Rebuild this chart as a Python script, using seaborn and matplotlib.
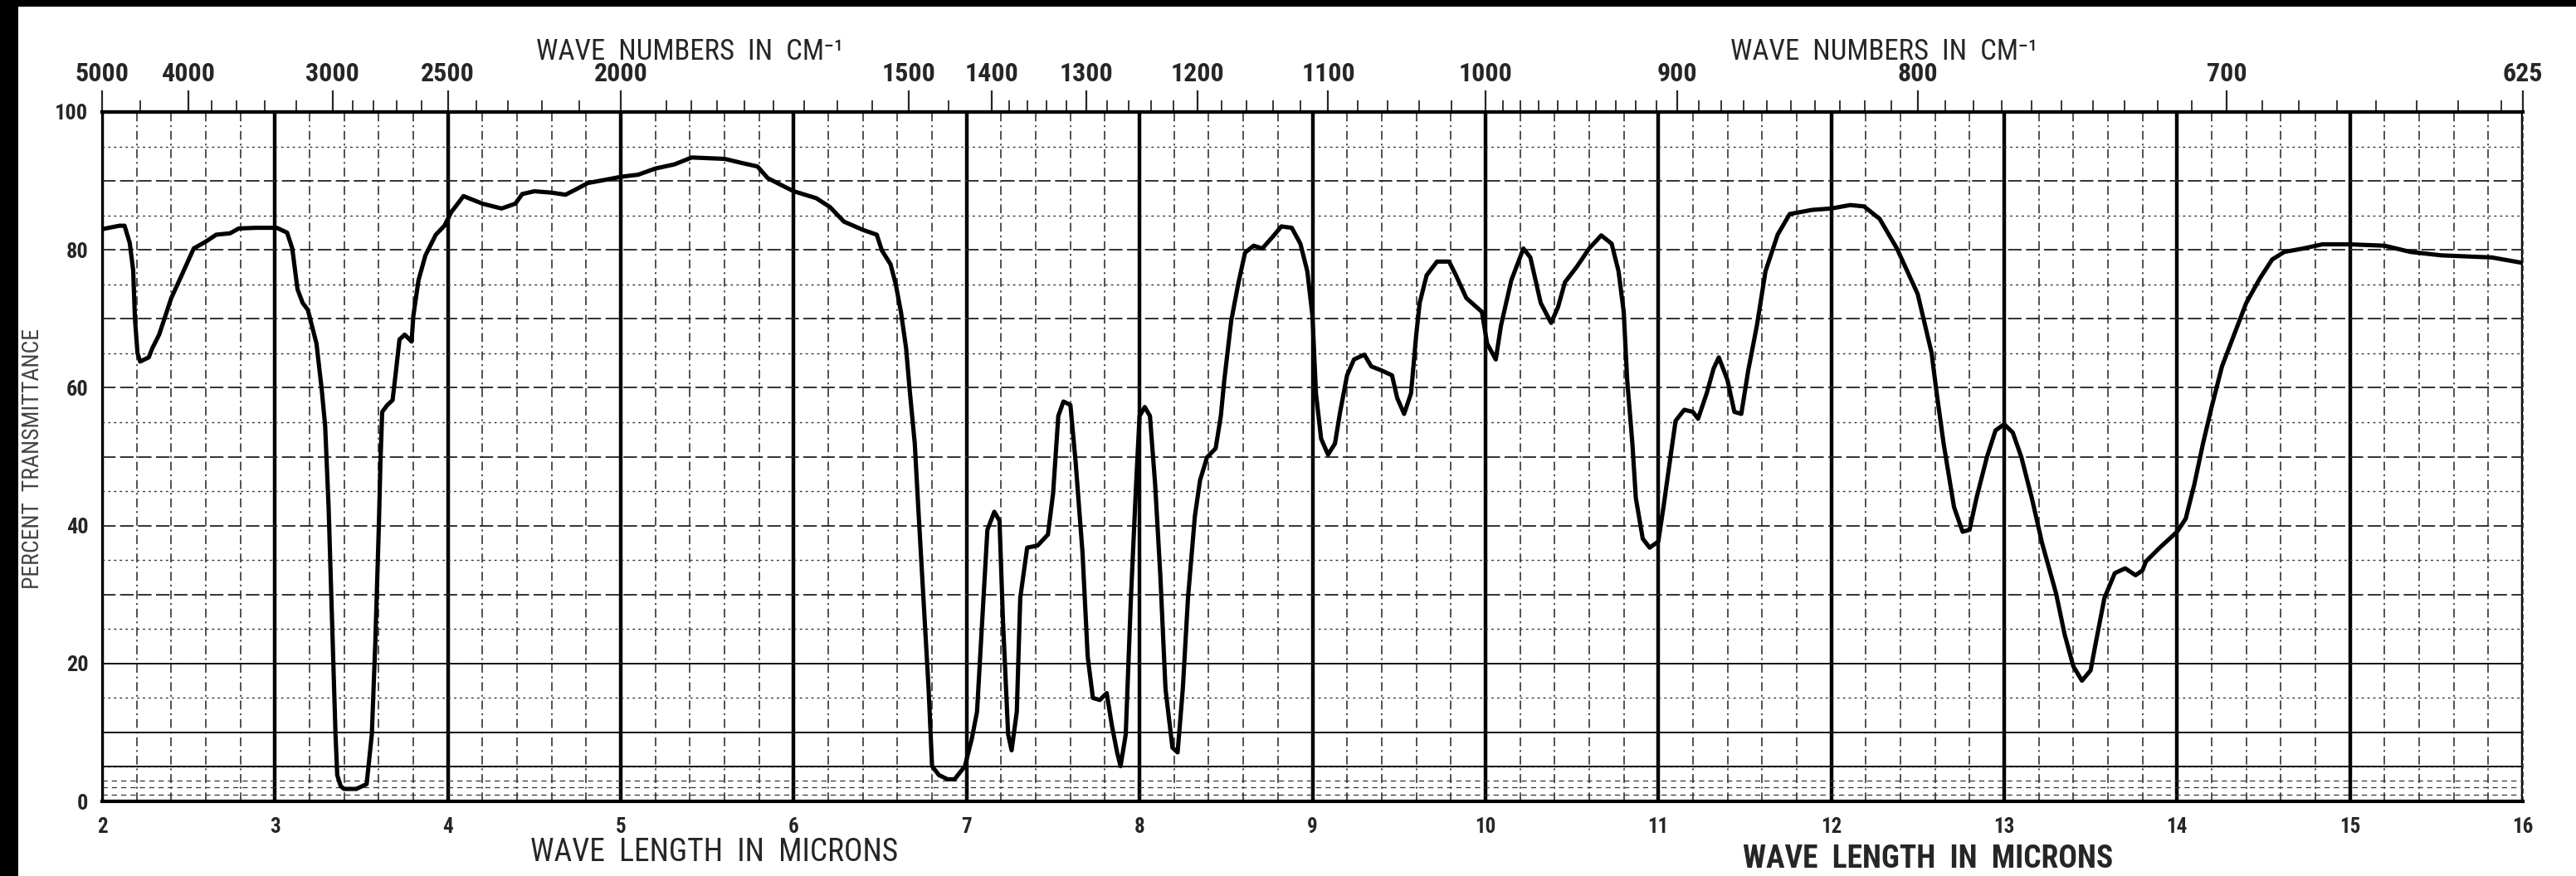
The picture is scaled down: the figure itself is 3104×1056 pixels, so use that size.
import numpy as np
import pandas as pd
import matplotlib
matplotlib.use("Agg")
import matplotlib.pyplot as plt
import seaborn as sns
from matplotlib import font_manager
from matplotlib.patches import Rectangle
from matplotlib.ticker import FixedLocator, MultipleLocator, FuncFormatter

# ---------------- data ----------------
wavelength_um = [
    2.00, 2.10, 2.13, 2.16, 2.18, 2.19, 2.205, 2.22, 2.27, 2.29, 2.33, 2.40, 2.46, 2.53,
    2.60, 2.66, 2.74, 2.79, 2.89, 3.01, 3.07, 3.10, 3.13, 3.16, 3.19, 3.24, 3.27, 3.29,
    3.31, 3.33, 3.35, 3.36, 3.38, 3.40, 3.47, 3.53, 3.56, 3.58, 3.60, 3.61, 3.62, 3.65,
    3.68, 3.70, 3.72, 3.75, 3.79, 3.80, 3.83, 3.87, 3.93, 3.98, 4.02, 4.06, 4.09, 4.20,
    4.31, 4.39, 4.43, 4.50, 4.60, 4.68, 4.75, 4.81, 4.94, 5.00, 5.10, 5.20, 5.31, 5.41,
    5.60, 5.70, 5.79, 5.85, 5.92, 6.00, 6.13, 6.21, 6.29, 6.40, 6.48, 6.51, 6.56, 6.59,
    6.62, 6.65, 6.67, 6.70, 6.72, 6.75, 6.78, 6.80, 6.84, 6.89, 6.93, 6.99, 7.03, 7.06,
    7.09, 7.12, 7.16, 7.19, 7.21, 7.24, 7.26, 7.29, 7.31, 7.35, 7.41, 7.47, 7.50, 7.53,
    7.56, 7.60, 7.63, 7.67, 7.70, 7.73, 7.77, 7.81, 7.84, 7.87, 7.89, 7.92, 7.95, 7.98,
    8.00, 8.03, 8.06, 8.09, 8.12, 8.15, 8.19, 8.22, 8.25, 8.28, 8.32, 8.35, 8.39, 8.44,
    8.47, 8.49, 8.53, 8.57, 8.61, 8.66, 8.71, 8.77, 8.82, 8.88, 8.93, 8.97, 9.00, 9.02,
    9.05, 9.09, 9.13, 9.16, 9.20, 9.24, 9.30, 9.34, 9.40, 9.46, 9.49, 9.53, 9.57, 9.60,
    9.62, 9.66, 9.72, 9.79, 9.83, 9.89, 9.98, 10.01, 10.06, 10.09, 10.15, 10.22, 10.26,
    10.32, 10.38, 10.42, 10.46, 10.53, 10.60, 10.67, 10.73, 10.77, 10.80, 10.82, 10.85,
    10.87, 10.91, 10.95, 11.00, 11.03, 11.07, 11.10, 11.15, 11.20, 11.23, 11.28, 11.32,
    11.35, 11.40, 11.44, 11.48, 11.52, 11.57, 11.62, 11.69, 11.76, 11.89, 12.00, 12.11,
    12.19, 12.28, 12.38, 12.50, 12.58, 12.61, 12.65, 12.71, 12.76, 12.80, 12.84, 12.90,
    12.95, 13.00, 13.05, 13.10, 13.16, 13.22, 13.30, 13.35, 13.40, 13.45, 13.50, 13.53,
    13.58, 13.64, 13.70, 13.76, 13.80, 13.82, 13.90, 14.00, 14.05, 14.10, 14.15, 14.20,
    14.26, 14.33, 14.40, 14.48, 14.55, 14.62, 14.73, 14.84, 15.00, 15.20, 15.35, 15.53,
    15.82, 16.00,
]
transmittance_pct = [
    83.0, 83.5, 83.5, 81.0, 77.0, 70.0, 65.0, 63.8, 64.4, 65.7, 67.7, 73.0, 76.3, 80.2,
    81.2, 82.2, 82.4, 83.1, 83.2, 83.2, 82.5, 80.2, 74.3, 72.3, 71.3, 66.4, 59.8, 54.5,
    42.7, 26.2, 9.7, 3.8, 2.2, 1.8, 1.8, 2.5, 9.7, 22.9, 39.4, 49.3, 56.5, 57.5,
    58.2, 62.5, 67.0, 67.7, 66.7, 70.4, 75.6, 79.2, 82.2, 83.5, 85.5, 86.8, 87.8, 86.7,
    86.0, 86.7, 88.1, 88.5, 88.3, 88.0, 88.9, 89.7, 90.3, 90.6, 90.9, 91.8, 92.4, 93.4,
    93.2, 92.6, 92.1, 90.4, 89.5, 88.5, 87.5, 86.2, 84.1, 82.9, 82.2, 79.9, 77.9, 75.0,
    71.0, 65.7, 59.8, 51.9, 42.7, 29.5, 16.3, 5.1, 3.8, 3.2, 3.2, 5.1, 9.1, 13.0,
    26.2, 39.4, 42.0, 40.7, 26.2, 9.7, 7.4, 13.0, 29.5, 36.8, 37.1, 38.7, 44.7, 55.9,
    58.0, 57.5, 49.3, 36.1, 21.0, 15.0, 14.7, 15.7, 11.0, 7.1, 5.1, 9.7, 29.5, 46.0,
    55.9, 57.2, 55.9, 46.0, 32.8, 16.3, 7.8, 7.1, 16.3, 29.5, 41.4, 46.6, 49.9, 51.2,
    55.9, 61.1, 69.7, 75.0, 79.6, 80.6, 80.2, 81.9, 83.4, 83.2, 80.9, 76.9, 70.4, 59.2,
    52.6, 50.3, 51.9, 56.5, 61.8, 64.1, 64.8, 63.1, 62.5, 61.8, 58.5, 56.2, 59.2, 67.7,
    72.3, 76.3, 78.3, 78.3, 76.3, 73.0, 71.0, 66.4, 64.1, 69.0, 75.6, 80.2, 78.9,
    72.3, 69.4, 71.7, 75.3, 77.6, 80.2, 82.1, 80.9, 76.9, 71.0, 61.1, 51.9,
    44.0, 38.1, 36.8, 37.7, 42.7, 49.9, 55.2, 56.8, 56.5, 55.5, 59.2, 62.8,
    64.4, 61.1, 56.5, 56.2, 62.5, 69.0, 76.9, 82.2, 85.2, 85.8, 86.0, 86.5,
    86.3, 84.5, 80.2, 73.6, 65.1, 59.2, 51.9, 42.7, 39.1, 39.4, 44.0, 49.9,
    53.8, 54.7, 53.5, 49.9, 44.0, 37.4, 30.2, 24.2, 19.6, 17.5, 19.0, 23.0,
    29.5, 33.1, 33.8, 32.8, 33.5, 34.8, 36.8, 39.1, 41.0, 46.0, 51.9, 57.2,
    63.1, 67.7, 72.3, 75.9, 78.6, 79.7, 80.2, 80.8, 80.8, 80.6, 79.7, 79.2,
    78.9, 78.1,
]
bottom_ticks_um = list(range(2, 17))
top_labeled_wn = [5000, 4000, 3000, 2500, 2000, 1500, 1400, 1300, 1200, 1100, 1000, 900, 800, 700, 625]
top_minor_wn = ([4500, 3800, 3600, 3400, 3200, 2900, 2800, 2700, 2600, 2400, 2300, 2200, 2100,
                 1900, 1850, 1800, 1750, 1700, 1650, 1600, 1550, 1450]
                + list(range(1380, 1000, -20)) + list(range(990, 625, -10)))
top_minor_wn = [w for w in top_minor_wn if w not in top_labeled_wn]
y_label_values = [0, 20, 40, 60, 80, 100]

title_top = "WAVE  NUMBERS  IN  CM\u207b\u00b9"
title_bottom = "WAVE  LENGTH  IN  MICRONS"
y_title = "PERCENT  TRANSMITTANCE"

# ---------------- style ----------------
sns.set_style("white")
avail = {f.name for f in font_manager.fontManager.ttflist}
cond = next((f for f in ["Liberation Sans Narrow", "Roboto Condensed", "Open Sans Condensed"]
             if f in avail), "DejaVu Sans")
plt.rcParams["font.family"] = [cond, "DejaVu Sans"]

W, H = 3104, 1056
fig = plt.figure(figsize=(W / 100, H / 100), dpi=100, facecolor="white")
L, R, T, B = 123, 3040, 135, 966
ax = fig.add_axes([L / W, 1 - B / H, (R - L) / W, (B - T) / H])
ax.set_facecolor("white")

df = pd.DataFrame({"um": wavelength_um, "T": transmittance_pct})

ax.set_xlim(2, 16)
ax.set_ylim(0, 100)

# chart-paper grid
ax.xaxis.set_major_locator(FixedLocator(bottom_ticks_um))
ax.xaxis.set_minor_locator(MultipleLocator(0.2))
ax.yaxis.set_major_locator(MultipleLocator(10))
ax.yaxis.set_minor_locator(MultipleLocator(5))
ax.grid(which="major", axis="x", color="black", lw=3.2, ls="-", zorder=1)
ax.grid(which="minor", axis="x", color="#222222", lw=1.1, ls=(0, (7, 3, 1.5, 3)), zorder=1)
ax.grid(which="major", axis="y", color="#222222", lw=1.3, ls=(0, (9, 3)), zorder=1)
ax.grid(which="minor", axis="y", color="#333333", lw=1.0, ls=(0, (2, 3)), zorder=1)
for yv in (5, 10, 20):
    ax.axhline(yv, color="#111111", lw=1.4, zorder=1)
for yv in (1, 2, 3):
    ax.axhline(yv, color="#333333", lw=0.9, ls=(0, (5, 4)), zorder=1)

sns.lineplot(data=df, x="um", y="T", ax=ax, color="black", lw=3.7, sort=False,
             estimator=None, zorder=5)
ax.set_xlabel("")
ax.set_ylabel("")

# bottom tick labels
ax.set_xticks(bottom_ticks_um)
ax.set_xticklabels([str(v) for v in bottom_ticks_um], fontsize=18, fontweight="bold")
ax.tick_params(axis="x", which="both", length=0, pad=14)
ax.yaxis.set_major_formatter(FuncFormatter(lambda v, p: f"{int(v)}" if int(round(v)) in y_label_values else ""))
ax.tick_params(axis="y", which="both", length=0, pad=12, labelsize=19)
for t in ax.get_yticklabels():
    t.set_fontweight("bold")

for s in ("top", "bottom"):
    ax.spines[s].set_linewidth(3)
    ax.spines[s].set_color("black")
ax.spines["left"].set_linewidth(1.6)
ax.spines["left"].set_color("black")
ax.spines["right"].set_linewidth(1.2)
ax.spines["right"].set_linestyle((0, (3, 3)))
ax.spines["right"].set_color("#333333")

# top wavenumber axis
def um_to_wn(x):
    x = np.clip(np.asarray(x, dtype=float), 0.1, None)
    return 1e4 / x

sec = ax.secondary_xaxis("top", functions=(um_to_wn, um_to_wn))
sec.xaxis.set_major_locator(FixedLocator(top_labeled_wn))
sec.xaxis.set_minor_locator(FixedLocator(top_minor_wn))
sec.set_xticklabels([str(v) for v in top_labeled_wn], fontsize=23, fontweight="bold")
sec.tick_params(axis="x", which="major", direction="out", length=19, width=1.6, pad=3)
sec.tick_params(axis="x", which="minor", direction="out", length=10, width=1.3)
sec.spines["top"].set_linewidth(3)

# titles
fig.text(831 / W, 1 - 62 / H, title_top, ha="center", va="center", fontsize=25)
fig.text(2270 / W, 1 - 62 / H, title_top, ha="center", va="center", fontsize=25)
fig.text(861 / W, 1 - 1028 / H, title_bottom, ha="center", va="center", fontsize=27)
fig.text(2323 / W, 1 - 1036 / H, title_bottom, ha="center", va="center", fontsize=27,
         fontweight="heavy")
fig.text(40 / W, 1 - 553 / H, y_title, ha="center", va="center", rotation=90,
         fontsize=20, color="#444444")

# scan border (black strips)
fig.patches.append(Rectangle((0, 0), 22 / W, 1, transform=fig.transFigure,
                             facecolor="black", edgecolor="none", zorder=10))
fig.patches.append(Rectangle((0, 1 - 8 / H), 1, 8 / H, transform=fig.transFigure,
                             facecolor="black", edgecolor="none", zorder=10))

fig.savefig("out.png", dpi=100, facecolor="white")
